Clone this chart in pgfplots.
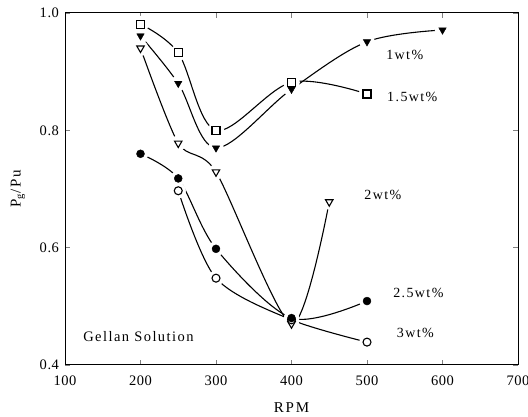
\documentclass[border=0pt]{standalone}
\usepackage{pgfplots}
\pgfplotsset{compat=1.18}
\usepackage{fontspec}
\setmainfont{Liberation Serif}
\newcommand\lab{\fontsize{14}{16}\selectfont\addfontfeatures{LetterSpace=10}}
\begin{document}
\begin{tikzpicture}
\begin{axis}[
  set layers,
  scale only axis, width=453pt, height=352pt,
  xmin=100, xmax=700, ymin=0.4, ymax=1.0,
  xtick={100,200,...,700}, ytick={0.4,0.6,0.8,1.0},
  yticklabel style={/pgf/number format/fixed, /pgf/number format/fixed zerofill, /pgf/number format/precision=1, /tikz/xshift=-2.5pt},
  /pgf/number format/assume math mode=true,
  tick align=inside, ticks=major, major tick length=5pt,
  tick style={line width=0.9pt},
  axis line style={line width=1pt},
  ticklabel style={font=\fontsize{14.5}{16}\selectfont\addfontfeatures{LetterSpace=4}},
  xticklabel style={/tikz/yshift=-7pt},
  label style={font=\fontsize{15}{17}\selectfont\addfontfeatures{LetterSpace=12}},
  xlabel={RPM}, ylabel={P$_{\mathrm{g}}$/Pu},
  xlabel style={at={(axis description cs:0.5,-0.122)}, anchor=center},
  ylabel style={at={(axis description cs:-0.104,0.5)}, anchor=center},
  clip=false,
]
% curves (background layer)
\addplot[black, line width=1.1pt, smooth, tension=0.55, on layer=axis background] coordinates {(200,0.961)(250,0.880)(300,0.770)(400,0.870)(500,0.951)(600,0.971)};
\addplot[black, line width=1.1pt, smooth, tension=0.55, on layer=axis background] coordinates {(200,0.981)(250,0.932)(300,0.800)(400,0.882)(500,0.862)};
\addplot[black, line width=1.1pt, smooth, tension=0.45, on layer=axis background] coordinates {(200,0.940)(250,0.778)(300,0.729)(400,0.470)(450,0.678)};
\addplot[black, line width=1.1pt, smooth, tension=0.5, on layer=axis background] coordinates {(200,0.760)(250,0.718)(300,0.598)(400,0.480)(500,0.509)};
\addplot[black, line width=1.1pt, smooth, tension=0.5, on layer=axis background] coordinates {(250,0.697)(300,0.548)(400,0.477)(500,0.439)};
% white halos (gaps between curves and markers)
\addplot[only marks, mark=*, mark size=7.5pt, mark options={draw=white, fill=white}, forget plot] coordinates {(200,0.961)(250,0.880)(300,0.770)(400,0.870)(500,0.951)(600,0.971)};
\addplot[only marks, mark=*, mark size=8pt, mark options={draw=white, fill=white}, forget plot] coordinates {(200,0.981)(250,0.932)(300,0.800)(400,0.882)(500,0.862)};
\addplot[only marks, mark=*, mark size=7.5pt, mark options={draw=white, fill=white}, forget plot] coordinates {(200,0.940)(250,0.778)(300,0.729)(400,0.470)(450,0.678)};
\addplot[only marks, mark=*, mark size=7.5pt, mark options={draw=white, fill=white}, forget plot] coordinates {(200,0.760)(250,0.718)(300,0.598)(400,0.480)(500,0.509)};
\addplot[only marks, mark=*, mark size=7.5pt, mark options={draw=white, fill=white}, forget plot] coordinates {(250,0.697)(300,0.548)(400,0.477)(500,0.439)};
% markers
\addplot[only marks, mark=triangle*, mark size=4.3pt, mark options={rotate=180, fill=black, draw=black}] coordinates {(200,0.961)(250,0.880)(300,0.770)(400,0.870)(500,0.951)(600,0.971)};
\addplot[only marks, mark=square*, mark size=4pt, mark options={fill=white, draw=black, line width=1.1pt}] coordinates {(200,0.981)(250,0.932)(300,0.800)(400,0.882)(500,0.862)};
\addplot[only marks, mark=triangle*, mark size=4.3pt, mark options={rotate=180, fill=white, draw=black, line width=1.1pt}] coordinates {(200,0.940)(250,0.778)(300,0.729)(400,0.470)(450,0.678)};
\addplot[only marks, mark=*, mark size=4pt, mark options={fill=white, draw=black, line width=1.1pt}] coordinates {(250,0.697)(300,0.548)(400,0.477)(500,0.439)};
\addplot[only marks, mark=*, mark size=4pt, mark options={fill=black, draw=black}] coordinates {(200,0.760)(250,0.718)(300,0.598)(400,0.480)(500,0.509)};
% labels
\node[font=\lab] at (axis cs:550,0.928) {1wt\%};
\node[font=\lab] at (axis cs:560,0.857) {1.5wt\%};
\node[font=\lab] at (axis cs:521,0.690) {2wt\%};
\node[font=\lab] at (axis cs:568,0.523) {2.5wt\%};
\node[font=\lab] at (axis cs:564,0.455) {3wt\%};
\node[font=\fontsize{14.5}{16}\selectfont\addfontfeatures{LetterSpace=10}, anchor=west, inner sep=0pt] at (axis cs:124,0.448) {Gellan Solution};
\end{axis}
\pgfresetboundingbox
\path[use as bounding box] ([shift={(-65pt,-51pt)}]current axis.south west) rectangle ([shift={(10pt,13pt)}]current axis.north east);
\end{tikzpicture}
\end{document}
